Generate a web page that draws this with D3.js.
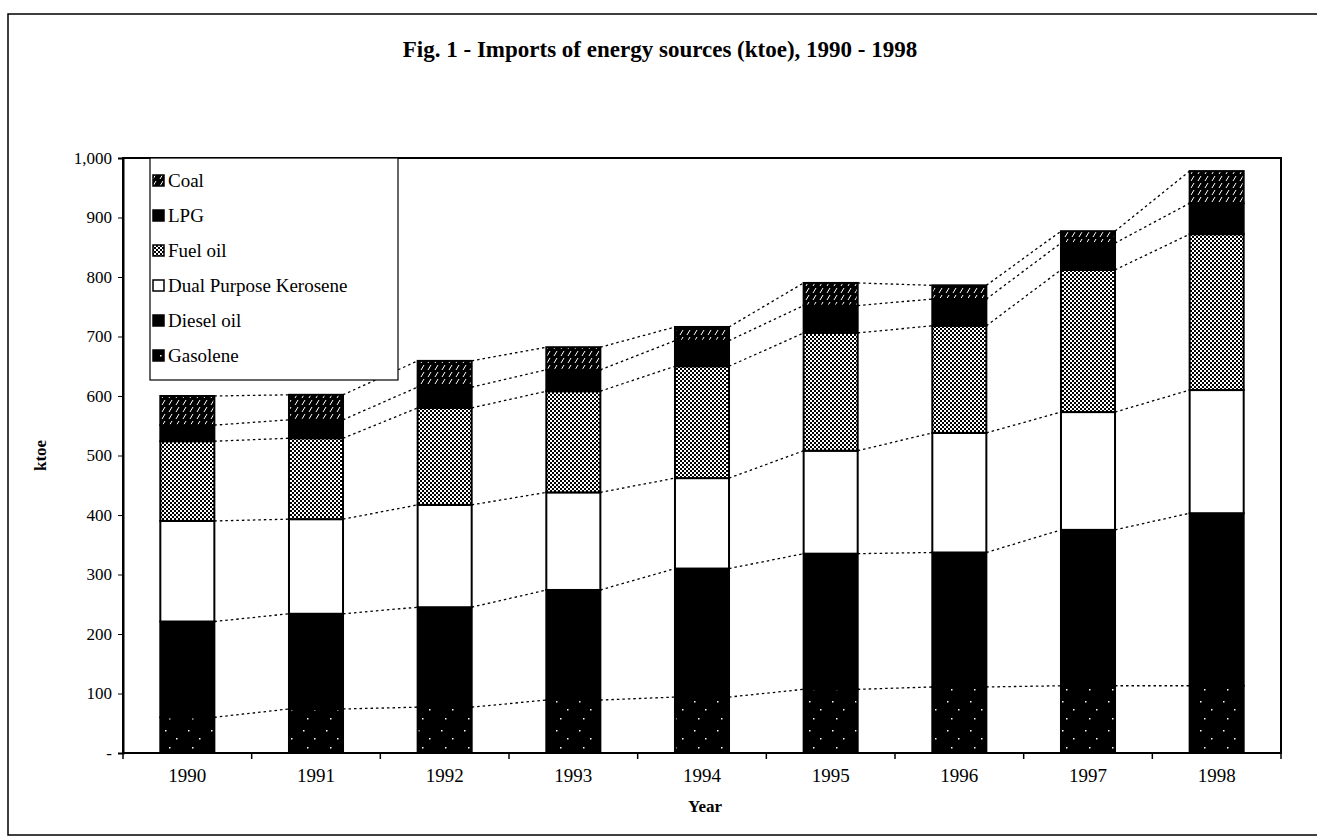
<!DOCTYPE html>
<html>
<head>
<meta charset="utf-8">
<script src="https://cdn.jsdelivr.net/npm/d3@7"></script>
<style>
  body { margin: 0; background: #fff; }
  svg { display: block; }
  .axis text { font-family: "Liberation Serif", "Times New Roman", serif; fill: #000; }
  .y-axis text { font-size: 17px; }
  .x-axis text { font-size: 19px; }
</style>
</head>
<body>
<div class="container"></div>
<script>
// values (ktoe)
const years = ["1990", "1991", "1992", "1993", "1994", "1995", "1996", "1997", "1998"];
const seriesNames = ["Gasolene", "Diesel oil", "Dual Purpose Kerosene", "Fuel oil", "LPG", "Coal"];
const gasolene = [60, 74, 77, 89, 94, 107, 111, 113, 113];
const dieselOil = [161, 160, 168, 185, 216, 228, 226, 262, 290];
const kerosene = [169, 159, 172, 164, 152, 173, 201, 198, 207];
const fuelOil = [134, 136, 163, 170, 188, 198, 180, 239, 262];
const lpg = [27, 31, 35, 36, 43, 46, 45, 45, 52];
const coal = [49, 42, 44, 38, 23, 38, 23, 20, 54];
const yTicks = [0, 100, 200, 300, 400, 500, 600, 700, 800, 900, 1000];

const w = 1317;
const h = 839;
const plotLeft = 123, plotRight = 1281, plotTop = 158, plotBottom = 753;
const serif = "'Liberation Serif', 'Times New Roman', serif";

const columns = [gasolene, dieselOil, kerosene, fuelOil, lpg, coal];
const rows = years.map((y, i) => {
  const r = { year: y };
  seriesNames.forEach((s, j) => { r[s] = columns[j][i]; });
  return r;
});
const stacked = d3.stack().keys(seriesNames)(rows);

const svg = d3.select(".container")
  .append("svg")
  .attr("width", w)
  .attr("height", h);

// fill patterns imitating the scanned hatching
const defs = svg.append("defs");
const pGas = defs.append("pattern").attr("id", "pGas").attr("patternUnits", "userSpaceOnUse")
  .attr("width", 23).attr("height", 29);
pGas.append("rect").attr("width", 23).attr("height", 29).attr("fill", "#000");
[[4, 5], [15, 13], [8, 22]].forEach(p => {
  pGas.append("rect").attr("x", p[0]).attr("y", p[1]).attr("width", 1.5).attr("height", 1.5).attr("fill", "#fff");
});
const pFuel = defs.append("pattern").attr("id", "pFuel").attr("patternUnits", "userSpaceOnUse")
  .attr("width", 4).attr("height", 4);
pFuel.append("rect").attr("width", 4).attr("height", 4).attr("fill", "#fff");
pFuel.append("rect").attr("width", 2).attr("height", 2).attr("fill", "#000");
pFuel.append("rect").attr("x", 2).attr("y", 2).attr("width", 2).attr("height", 2).attr("fill", "#000");
const pCoal = defs.append("pattern").attr("id", "pCoal").attr("patternUnits", "userSpaceOnUse")
  .attr("width", 7).attr("height", 7);
pCoal.append("rect").attr("width", 7).attr("height", 7).attr("fill", "#000");
pCoal.append("path").attr("d", "M1,6 L4,1").attr("stroke", "#fff").attr("stroke-width", 1);

const fills = {
  "Gasolene": "url(#pGas)",
  "Diesel oil": "#000",
  "Dual Purpose Kerosene": "#fff",
  "Fuel oil": "url(#pFuel)",
  "LPG": "#000",
  "Coal": "url(#pCoal)"
};

// outer frame
svg.append("rect")
  .attr("x", 8).attr("y", 14)
  .attr("width", w + 10).attr("height", 821)
  .attr("fill", "none").attr("stroke", "#000").attr("stroke-width", 1.5);

svg.append("text")
  .attr("x", 660).attr("y", 57)
  .attr("text-anchor", "middle")
  .style("font-family", serif)
  .style("font-weight", "bold")
  .style("font-size", "23px")
  .text("Fig. 1 - Imports of energy sources (ktoe), 1990 - 1998");

const xScale = d3.scaleBand()
  .domain(years)
  .range([plotLeft, plotRight])
  .padding(0);
const barW = xScale.bandwidth() * 0.42;
const barX = (d) => xScale(d) + (xScale.bandwidth() - barW) / 2;

const yScale = d3.scaleLinear()
  .domain([0, 1000])
  .range([plotBottom, plotTop]);

// plot frame
svg.append("rect")
  .attr("x", plotLeft).attr("y", plotTop)
  .attr("width", plotRight - plotLeft).attr("height", plotBottom - plotTop)
  .attr("fill", "none").attr("stroke", "#000").attr("stroke-width", 2);

const yAxis = d3.axisLeft(yScale)
  .tickValues(yTicks)
  .tickSize(5)
  .tickPadding(6)
  .tickFormat((d) => d === 0 ? "-" : d3.format(",")(d));
svg.append("g")
  .attr("class", "axis y-axis")
  .attr("transform", "translate(" + plotLeft + ",0)")
  .call(yAxis)
  .call(g => g.select(".domain").attr("stroke-width", 2));

const xAxis = d3.axisBottom(xScale).tickSize(0).tickPadding(16);
svg.append("g")
  .attr("class", "axis x-axis")
  .attr("transform", "translate(0," + plotBottom + ")")
  .call(xAxis)
  .call(g => g.select(".domain").remove());

// tick marks on the category boundaries
const edges = years.map(d => xScale(d)).concat([plotRight]);
svg.append("g").selectAll("line")
  .data(edges)
  .enter()
  .append("line")
  .attr("x1", d => d).attr("x2", d => d)
  .attr("y1", plotBottom).attr("y2", plotBottom + 6)
  .attr("stroke", "#000").attr("stroke-width", 1.5);

svg.append("text")
  .attr("transform", "translate(46," + ((plotTop + plotBottom) / 2) + ") rotate(-90)")
  .attr("text-anchor", "middle")
  .style("font-family", serif)
  .style("font-weight", "bold")
  .style("font-size", "17px")
  .text("ktoe");

svg.append("text")
  .attr("x", 705).attr("y", 812)
  .attr("text-anchor", "middle")
  .style("font-family", serif)
  .style("font-weight", "bold")
  .style("font-size", "17px")
  .text("Year");

// stacked bars
svg.append("g").selectAll("g")
  .data(stacked)
  .enter()
  .append("g")
  .attr("fill", d => fills[d.key])
  .selectAll("rect")
  .data(d => d)
  .enter()
  .append("rect")
  .attr("x", d => barX(d.data.year))
  .attr("y", d => yScale(d[1]))
  .attr("width", barW)
  .attr("height", d => yScale(d[0]) - yScale(d[1]))
  .attr("stroke", "#000")
  .attr("stroke-width", 2);

// dotted series lines between bars
const links = [];
stacked.forEach(layer => {
  for (let i = 0; i < layer.length - 1; i++) {
    links.push({ a: layer[i], b: layer[i + 1] });
  }
});
svg.append("g").selectAll("line")
  .data(links)
  .enter()
  .append("line")
  .attr("x1", d => barX(d.a.data.year) + barW)
  .attr("y1", d => yScale(d.a[1]))
  .attr("x2", d => barX(d.b.data.year))
  .attr("y2", d => yScale(d.b[1]))
  .attr("stroke", "#000")
  .attr("stroke-width", 1.3)
  .attr("stroke-dasharray", "2.5,3");

// legend
const legend = svg.append("g").attr("id", "legend");
legend.append("rect")
  .attr("x", 150).attr("y", 158)
  .attr("width", 248).attr("height", 222)
  .attr("fill", "#fff").attr("stroke", "#000").attr("stroke-width", 1.2);
const legendItems = seriesNames.slice().reverse();
legend.selectAll("g")
  .data(legendItems)
  .enter()
  .append("g")
  .attr("transform", (d, i) => "translate(152," + (187 + i * 35) + ")")
  .each(function(d) {
    const g = d3.select(this);
    g.append("rect")
      .attr("x", 1).attr("y", -12)
      .attr("width", 11).attr("height", 11)
      .attr("fill", fills[d])
      .attr("stroke", "#000").attr("stroke-width", 1.5);
    g.append("text")
      .attr("x", 16).attr("y", 0)
      .style("font-family", serif)
      .style("font-size", "19px")
      .text(d);
  });
</script>
</body>
</html>
